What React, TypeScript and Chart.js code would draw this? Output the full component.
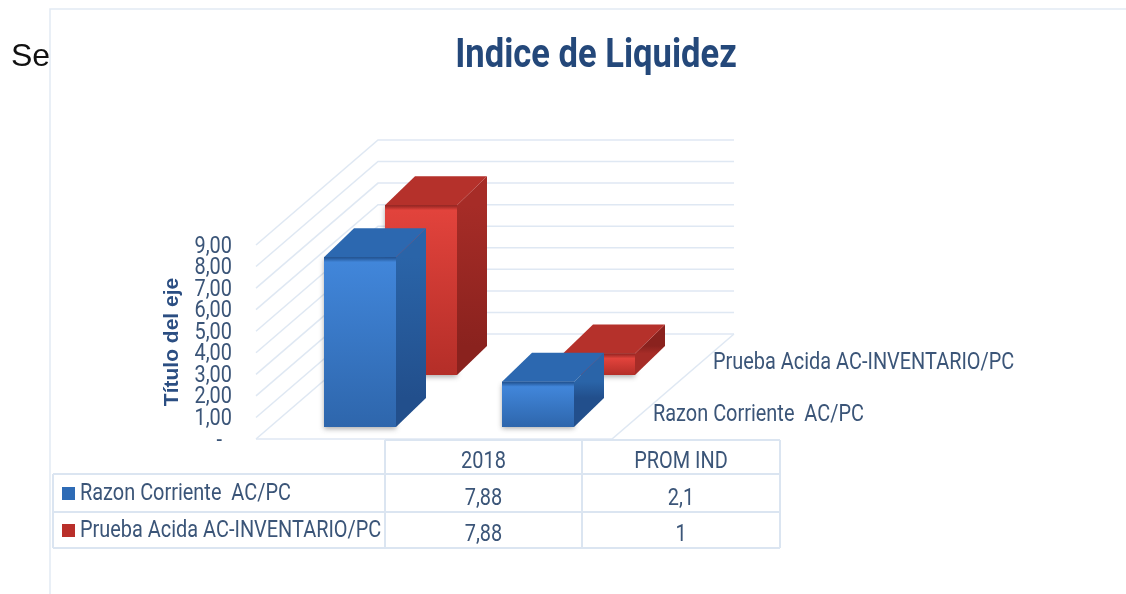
import React, { useEffect, useRef } from "react";
import { Chart, registerables } from "chart.js";

Chart.register(...registerables);

const categories = ["2018", "PROM IND"];
const seriesNames = ["Razon Corriente  AC/PC", "Prueba Acida AC-INVENTARIO/PC"];
const razonCorriente = [7.88, 2.1];
const pruebaAcida = [7.88, 1];
const chartTitle = "Indice de Liquidez";
const axisTitle = "Título del eje";

const NARROW = "Roboto, sans-serif";
const TEXT = "#3b5578";
const LINE = "#dfe8f3";

const palette = [
  { front: ["#1f4f8c", "#4186da", "#2e66ac"], side: ["#2a64a8", "#224f8c"], top: "#2c68b0", key: "#2e6bb5" },
  { front: ["#8f2320", "#e2433c", "#b42e28"], side: ["#a62c27", "#8a221e"], top: "#b5312b", key: "#b92f2a" },
];
const seriesOffset = [
  { dx: 15, dy: -12 },
  { dx: 76, dy: -64 },
];
const extrude = { dx: 30, dy: -29 };
const wall = { dx: 122, dy: -105 };

const fmt = (v: number) => String(v).replace(".", ",");

// The reference uses a condensed face; Roboto is narrowed horizontally when painted.
function condenseText(ctx: any) {
  if (ctx.__condensed) return;
  ctx.__condensed = true;
  const orig = ctx.fillText.bind(ctx);
  ctx.fillText = (text: string, x: number, y: number, maxWidth?: number) => {
    const font: string = ctx.font;
    if (!font.includes("Roboto")) {
      orig(text, x, y, maxWidth);
      return;
    }
    const size = parseFloat((font.match(/([\d.]+)px/) || [])[1] || "24");
    const sx = size > 30 ? 0.843 : 0.83;
    ctx.save();
    ctx.translate(x, y + 1.5);
    ctx.scale(sx, 1);
    orig(text, 0, 0);
    ctx.restore();
  };
}

function drawCuboid(ctx: any, left: number, right: number, top: number, bottom: number, p: any) {
  const { dx, dy } = extrude;
  ctx.save();
  ctx.shadowColor = "rgba(70,70,70,0.45)";
  ctx.shadowBlur = 5;
  ctx.shadowOffsetY = 2;
  ctx.fillStyle = p.front[2];
  ctx.fillRect(left, top, right - left, bottom - top);
  ctx.restore();

  const side = ctx.createLinearGradient(0, top, 0, bottom + dy);
  side.addColorStop(0, p.side[0]);
  side.addColorStop(1, p.side[1]);
  ctx.fillStyle = side;
  ctx.beginPath();
  ctx.moveTo(right, top);
  ctx.lineTo(right + dx, top + dy);
  ctx.lineTo(right + dx, bottom + dy);
  ctx.lineTo(right, bottom);
  ctx.closePath();
  ctx.fill();

  ctx.fillStyle = p.top;
  ctx.beginPath();
  ctx.moveTo(left, top);
  ctx.lineTo(left + dx, top + dy);
  ctx.lineTo(right + dx, top + dy);
  ctx.lineTo(right, top);
  ctx.closePath();
  ctx.fill();

  const h = bottom - top;
  const grad = ctx.createLinearGradient(0, top, 0, bottom);
  grad.addColorStop(0, p.front[0]);
  grad.addColorStop(Math.min(0.4, 5 / h), p.front[1]);
  grad.addColorStop(1, p.front[2]);
  ctx.fillStyle = grad;
  ctx.fillRect(left, top, right - left, h);
}

const wallPlugin = {
  id: "wallAndTable",
  beforeDraw(chart: any) {
    const { ctx, scales } = chart;
    condenseText(ctx);
    const x = scales.x;
    const y = scales.y;
    ctx.save();
    ctx.fillStyle = "#ffffff";
    ctx.fillRect(0, 0, chart.width, chart.height);
    ctx.strokeStyle = "#e2eaf3";
    ctx.lineWidth = 1.5;
    ctx.beginPath();
    ctx.moveTo(50, 594);
    ctx.lineTo(50, 9);
    ctx.lineTo(1126, 9);
    ctx.stroke();

    ctx.strokeStyle = LINE;
    ctx.lineWidth = 1.5;
    y.ticks.forEach((t: any) => {
      const py = y.getPixelForValue(t.value);
      ctx.beginPath();
      ctx.moveTo(x.left, py);
      ctx.lineTo(x.left + wall.dx, py + wall.dy);
      ctx.lineTo(x.right + wall.dx, py + wall.dy);
      ctx.stroke();
    });
    const y0 = y.getPixelForValue(0);
    ctx.beginPath();
    ctx.moveTo(x.left, y0);
    ctx.lineTo(x.right, y0);
    ctx.lineTo(x.right + wall.dx, y0 + wall.dy);
    ctx.stroke();

    // depth-axis labels
    ctx.fillStyle = TEXT;
    ctx.font = `24px ${NARROW}`;
    ctx.textBaseline = "middle";
    ctx.textAlign = "left";
    ctx.fillText(seriesNames[1], 713, 361);
    ctx.fillText(seriesNames[0], 653, 413);

    // data table
    const cols = [385, 582, 780];
    const rows = [440, 474, 512, 548];
    ctx.strokeStyle = "#dbe5f1";
    ctx.lineWidth = 2;
    ctx.beginPath();
    ctx.moveTo(cols[0], rows[0]);
    ctx.lineTo(cols[2], rows[0]);
    rows.slice(1).forEach((r) => {
      ctx.moveTo(53, r);
      ctx.lineTo(cols[2], r);
    });
    cols.forEach((c) => {
      ctx.moveTo(c, rows[0]);
      ctx.lineTo(c, rows[3]);
    });
    ctx.moveTo(53, rows[1]);
    ctx.lineTo(53, rows[3]);
    ctx.stroke();

    ctx.textAlign = "center";
    categories.forEach((c, i) => {
      const cx = (cols[i] + cols[i + 1]) / 2;
      ctx.fillStyle = TEXT;
      ctx.fillText(c, cx, 460);
      ctx.fillText(fmt(razonCorriente[i]), cx, 497);
      ctx.fillText(fmt(pruebaAcida[i]), cx, 533);
    });
    ctx.textAlign = "left";
    seriesNames.forEach((s, i) => {
      const cy = i === 0 ? 492 : 529;
      ctx.fillStyle = palette[i].key;
      ctx.fillRect(62, i === 0 ? 487 : 524, 13, 13);
      ctx.fillStyle = TEXT;
      ctx.fillText(s, 80, cy);
    });
    ctx.restore();
  },
  beforeDatasetDraw(chart: any, args: any) {
    const { ctx } = chart;
    const i = args.index;
    const off = seriesOffset[i];
    ctx.save();
    args.meta.data.forEach((el: any) => {
      const left = el.x - el.width / 2 + off.dx;
      const right = el.x + el.width / 2 + off.dx;
      drawCuboid(ctx, left, right, el.y + off.dy, el.base + off.dy, palette[i]);
    });
    ctx.restore();
    return false;
  },
};

export default function App() {
  const ref = useRef<HTMLCanvasElement>(null);
  useEffect(() => {
    const chart = new Chart(ref.current!, {
      type: "bar",
      data: {
        labels: categories,
        datasets: [
          { label: seriesNames[0], data: razonCorriente, backgroundColor: palette[0].key, grouped: false, barThickness: 72 },
          { label: seriesNames[1], data: pruebaAcida, backgroundColor: palette[1].key, grouped: false, barThickness: 72 },
        ],
      },
      options: {
        responsive: false,
        animation: false,
        layout: { padding: { left: 150, right: 84, top: 0, bottom: 155 } },
        plugins: {
          legend: { display: false },
          tooltip: { enabled: false },
          title: {
            display: true,
            text: chartTitle,
            color: "#24487a",
            font: { family: NARROW, size: 41, weight: "bold", lineHeight: 1.2 },
            padding: { top: 31, bottom: 164.8 },
          },
        },
        scales: {
          x: {
            display: false,
            offset: true,
          },
          y: {
            min: 0,
            max: 9,
            grid: { display: false, drawTicks: false },
            border: { display: false },
            ticks: {
              stepSize: 1,
              padding: 24,
              color: TEXT,
              font: { family: NARROW, size: 24 },
              autoSkip: false,
              callback: (v: any) => (v === 0 ? "-  " : Number(v).toFixed(2).replace(".", ",")),
            },
            title: {
              display: true,
              text: axisTitle,
              color: "#2b4e82",
              font: { family: '"Liberation Sans", sans-serif', size: 21, weight: "bold", lineHeight: 1.2 },
              padding: { top: 10, bottom: 0 },
            },
            afterFit: (s: any) => {
              s.width = 106;
            },
          },
          spacer: {
            position: "right",
            display: true,
            grid: { display: false, drawTicks: false },
            border: { display: false },
            ticks: { display: false },
            afterFit: (s: any) => {
              s.width = 430;
            },
          },
        },
      } as any,
      plugins: [wallPlugin],
    });
    return () => chart.destroy();
  }, []);
  return (
    <div style={{ position: "absolute", left: 0, top: 0, width: 1126, height: 594, overflow: "hidden", background: "#fff" }}>
      <canvas ref={ref} width={1126} height={594} style={{ display: "block" }} />
      <div style={{ position: "absolute", left: 11, top: 37, fontFamily: '"Liberation Sans", Arial, sans-serif', fontSize: 32, lineHeight: "36px", color: "#111" }}>
        Se
      </div>
    </div>
  );
}
